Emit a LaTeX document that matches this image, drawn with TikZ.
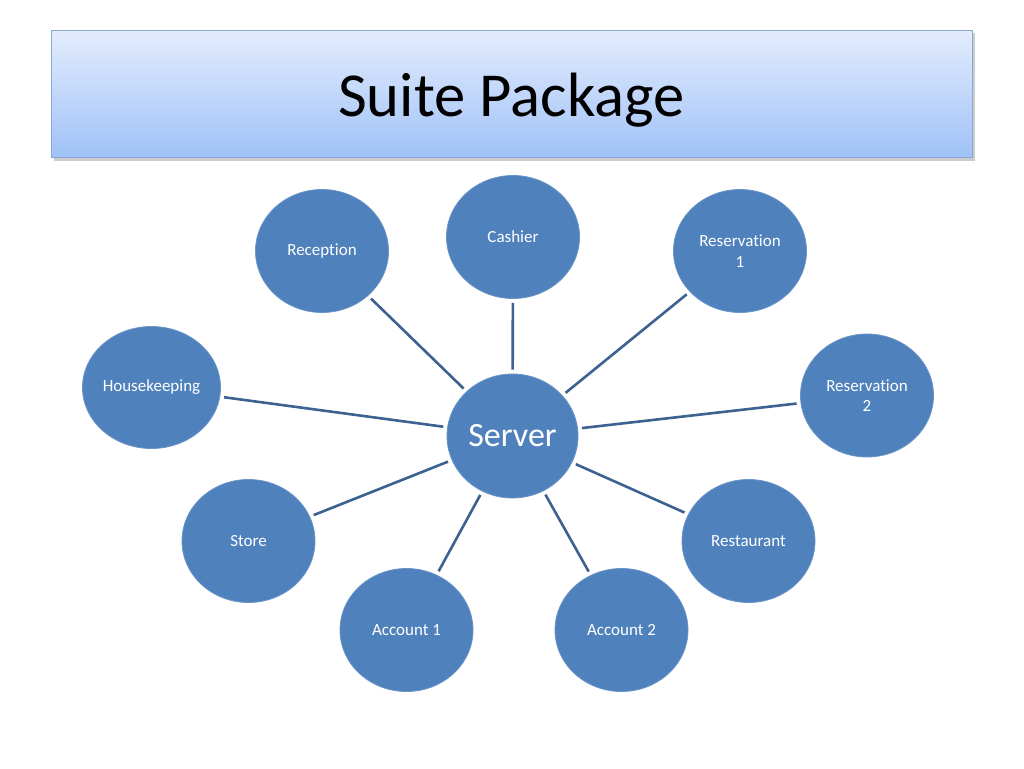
\documentclass[tikz,border=0pt]{standalone}
\usepackage{fontspec}
\setmainfont{Carlito}[Ligatures={NoCommon,NoContextual},Contextuals=NoAlternate]
\usetikzlibrary{shapes.geometric,shadows}
\definecolor{circblue}{HTML}{4F81BD}
\definecolor{linkblue}{HTML}{3D6190}
\definecolor{titletop}{HTML}{E3ECFD}
\definecolor{titlebot}{HTML}{A0C2F8}
\definecolor{titleedge}{HTML}{8AA6D2}
\begin{document}
\begin{tikzpicture}[x=1pt,y=-1pt,
  sat/.style={ellipse,fill=circblue,draw=circblue!85!white,line width=0.8pt,
    minimum width=133pt,minimum height=123pt,inner sep=0pt,
    text=white,align=center,font=\fontsize{17}{20.5}\selectfont},
  hub/.style={sat,minimum width=131pt,minimum height=124pt,
    font=\fontsize{34}{40}\selectfont},
  link/.style={draw=linkblue,line width=2.6pt,shorten <=4pt,shorten >=4pt}]
\useasboundingbox (0,0) rectangle (1024,768);
\fill[white] (0,0) rectangle (1024,768);
% title
\node (title) [draw=titleedge,line width=0.8pt,top color=titletop,bottom color=titlebot,
  minimum width=921pt,minimum height=127pt,inner sep=0pt,
  drop shadow={shadow xshift=2.5pt,shadow yshift=-3pt,opacity=0.4}] at (511.5,94) {};
\node (titletext) [font=\fontsize{62.6}{70}\selectfont,inner sep=0pt] at (511.5,100) {Suite Package};
% nodes
\node (srv) [hub] at (512.5,436) {Server};
\node (cas) [sat] at (513,237) {Cashier};
\node (rec) [sat] at (322,251) {Reception};
\node (rs1) [sat] at (740,251) {Reservation\\1};
\node (hk)  [sat,minimum width=138pt,minimum height=122pt] at (151.5,387.5) {Housekeeping};
\node (rs2) [sat] at (867,395.5) {Reservation\\2};
\node (sto) [sat] at (248.5,541) {Store};
\node (res) [sat] at (748.5,541) {Restaurant};
\node (ac1) [sat] at (406.5,630) {Account 1};
\node (ac2) [sat] at (621.5,630) {Account 2};
% links
\foreach \n in {cas,rec,rs1,hk,rs2,sto,res,ac1,ac2}
  \draw[link] (srv) -- (\n);
\end{tikzpicture}
\end{document}
